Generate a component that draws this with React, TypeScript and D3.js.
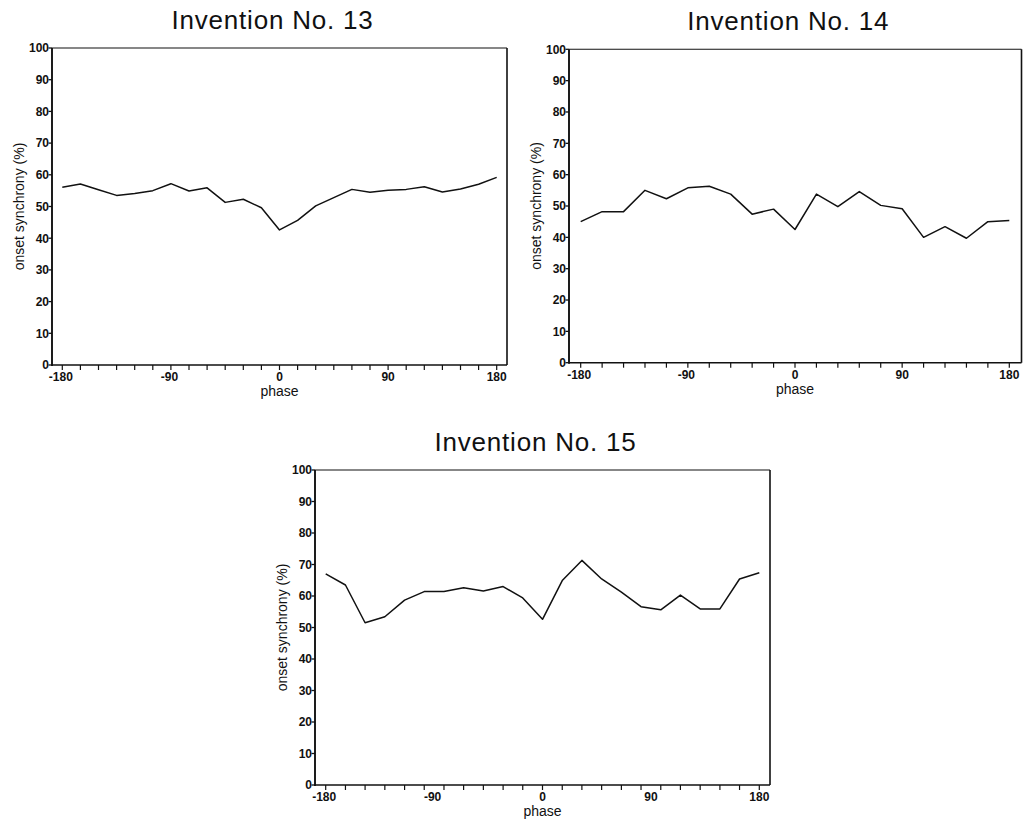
import React from "react";
import * as d3 from "d3";

const yTicks = [0, 10, 20, 30, 40, 50, 60, 70, 80, 90, 100];
const xLabels = [-180, -90, 0, 90, 180];

const titles = ["Invention No. 13", "Invention No. 14", "Invention No. 15"];

const phases13 = [-180, -165, -150, -135, -120, -105, -90, -75, -60, -45, -30, -15, 0, 15, 30, 45, 60, 75, 90, 105, 120, 135, 150, 165, 180];
const sync13 = [56.1, 57.1, 55.3, 53.5, 54.1, 55.0, 57.2, 54.9, 55.9, 51.3, 52.3, 49.6, 42.6, 45.6, 50.2, 52.8, 55.4, 54.5, 55.1, 55.4, 56.2, 54.6, 55.5, 57.0, 59.2];

const phases14 = [-180, -162, -144, -126, -108, -90, -72, -54, -36, -18, 0, 18, 36, 54, 72, 90, 108, 126, 144, 162, 180];
const sync14 = [45.0, 48.2, 48.2, 55.0, 52.3, 55.8, 56.3, 53.8, 47.4, 49.0, 42.5, 53.8, 49.8, 54.6, 50.2, 49.1, 40.0, 43.4, 39.7, 45.0, 45.4];

const phases15 = [-180, -163.6, -147.3, -130.9, -114.5, -98.2, -81.8, -65.5, -49.1, -32.7, -16.4, 0, 16.4, 32.7, 49.1, 65.5, 81.8, 98.2, 114.5, 130.9, 147.3, 163.6, 180];
const sync15 = [67.0, 63.5, 51.5, 53.4, 58.7, 61.4, 61.4, 62.6, 61.6, 63.0, 59.4, 52.6, 64.9, 71.3, 65.4, 61.2, 56.6, 55.6, 60.3, 55.9, 55.9, 65.4, 67.4];

const FONT = "'Liberation Sans', Arial, Helvetica, sans-serif";

type Layout = { left: number; right: number; top: number; bottom: number; x0: number; x1: number };

const layouts: Layout[] = [
  { left: 52, right: 507, top: 48, bottom: 365, x0: 62.3, x1: 496.7 },
  { left: 569, right: 1021.5, top: 49.3, bottom: 362.7, x0: 580.7, x1: 1009.3 },
  { left: 315, right: 770, top: 470, bottom: 785, x0: 325.7, x1: 759.3 },
];

function Panel({ layout, title, phases, values }: { layout: Layout; title: string; phases: number[]; values: number[] }) {
  const { left, right, top, bottom, x0, x1 } = layout;
  const x = d3.scaleLinear().domain([-180, 180]).range([x0, x1]);
  const y = d3.scaleLinear().domain([0, 100]).range([bottom, top]);
  const line = d3
    .line<number>()
    .x((_, i) => x(phases[i]))
    .y((d) => y(d));
  const cx = (left + right) / 2 - 7;
  return (
    <g>
      <text x={cx} y={top - 19} textAnchor="middle" fontFamily={FONT} fontSize={26} letterSpacing={0.8} fill="#111">
        {title}
      </text>
      {/* frame */}
      <line x1={left} x2={right} y1={top} y2={top} stroke="#111" strokeWidth={1.1} />
      <line x1={right} x2={right} y1={top} y2={bottom} stroke="#111" strokeWidth={1.6} />
      <line x1={left} x2={right} y1={bottom} y2={bottom} stroke="#111" strokeWidth={1.5} />
      <line x1={left} x2={left} y1={top} y2={bottom + 1} stroke="#111" strokeWidth={1.9} />
      {/* y ticks */}
      {yTicks.map((t) => (
        <g key={"y" + t}>
          <line x1={left - 3.5} x2={left} y1={y(t)} y2={y(t)} stroke="#111" strokeWidth={1.3} />
          <text x={left - 3} y={y(t)} dy="0.36em" textAnchor="end" fontFamily={FONT} fontSize={12} fontWeight="bold" fill="#111">
            {t}
          </text>
        </g>
      ))}
      {/* x ticks */}
      {phases.map((p, i) => (
        <line key={"xt" + i} x1={x(p)} x2={x(p)} y1={bottom} y2={bottom + 5} stroke="#111" strokeWidth={1.2} />
      ))}
      {xLabels.map((t) => (
        <text key={"xl" + t} x={x(t) - (t < 0 ? 1.5 : 0)} y={bottom + 16} textAnchor="middle" fontFamily={FONT} fontSize={12} fontWeight="bold" fill="#111">
          {t}
        </text>
      ))}
      <text x={x(0)} y={bottom + 31} textAnchor="middle" fontFamily={FONT} fontSize={14} fill="#111">
        phase
      </text>
      <text
        transform={`translate(${left - 28},${(top + bottom) / 2}) rotate(-90)`}
        textAnchor="middle"
        fontFamily={FONT}
        fontSize={14}
        fill="#111"
      >
        onset synchrony (%)
      </text>
      <path d={line(values) || ""} fill="none" stroke="#111" strokeWidth={1.5} strokeLinejoin="round" />
    </g>
  );
}

export default function App() {
  const data = [
    { phases: phases13, values: sync13 },
    { phases: phases14, values: sync14 },
    { phases: phases15, values: sync15 },
  ];
  return (
    <svg width={1024} height={823} style={{ position: "absolute", left: 0, top: 0, background: "#fff" }}>
      <rect width={1024} height={823} fill="#fff" />
      {data.map((d, i) => (
        <Panel key={i} layout={layouts[i]} title={titles[i]} phases={d.phases} values={d.values} />
      ))}
    </svg>
  );
}
